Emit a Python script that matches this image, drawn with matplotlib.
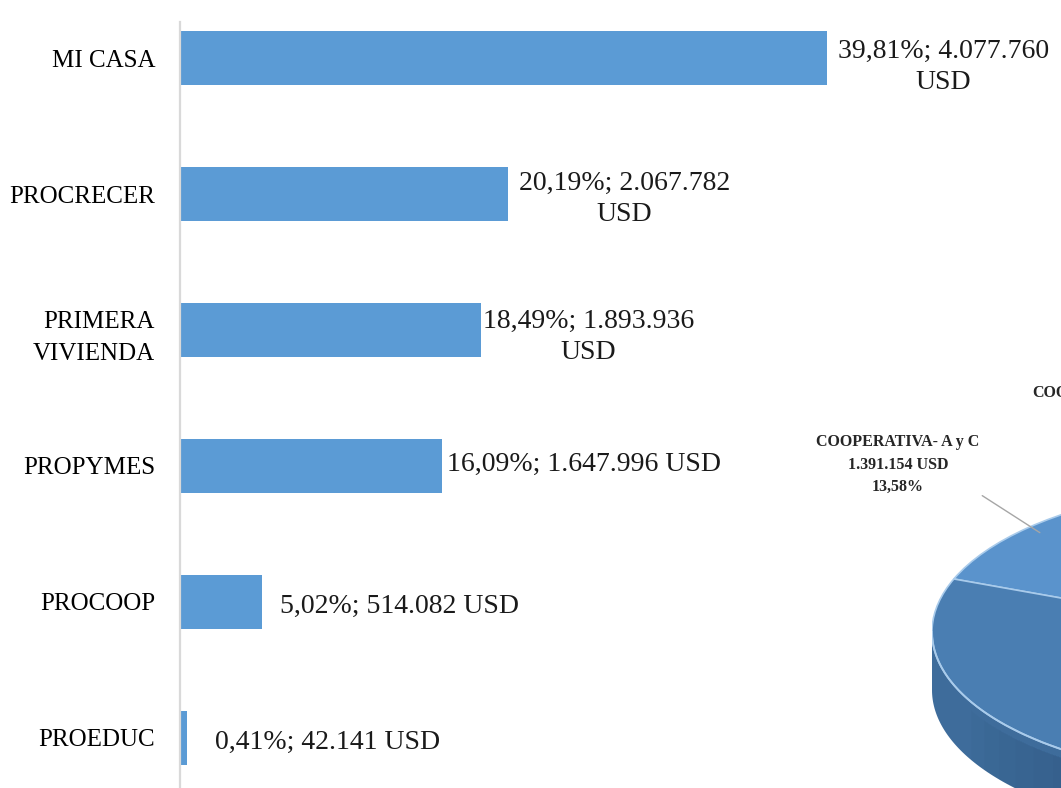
import numpy as np
import matplotlib
matplotlib.use('Agg')
import matplotlib.pyplot as plt
from matplotlib.patches import Wedge, Polygon

# bar chart data
programs = ['MI CASA', 'PROCRECER', 'PRIMERA\nVIVIENDA', 'PROPYMES',
            'PROCOOP', 'PROEDUC']
usd = [4077760, 2067782, 1893936, 1647996, 514082, 42141]
pct = [39.81, 20.19, 18.49, 16.09, 5.02, 0.41]
wrap_label = [True, True, True, False, False, False]

# pie fragment data (only one slice is visible/labelled)
pie_labels = ['COOPERATIVA- A y C', 'COOPERATIVA']
pie_usd = [1391154, None]
pie_pct = [13.58, 86.42]


def es_int(v):
    return '{:,}'.format(v).replace(',', '.')


def es_pct(v):
    return '{:.2f}%'.format(v).replace('.', ',')


plt.rcParams['font.family'] = ['Liberation Serif', 'DejaVu Serif']

W, H = 1061, 788
fig = plt.figure(figsize=(W / 100, H / 100), dpi=100)

###############################################################################
# horizontal bars
ax = fig.add_axes([180 / W, 0, 1 - 180 / W, 1 - 22 / H])
y = np.arange(len(programs))
bar_color = '#5B9BD5'
ax.barh(y, usd, height=0.4, color=bar_color)
ax.set_xlim(0, 5.552e6)
ax.set_ylim(5.368, -0.265)

for s in ['top', 'right', 'bottom']:
    ax.spines[s].set_visible(False)
ax.spines['left'].set_color('#D9D9D9')
ax.spines['left'].set_linewidth(1.6)
ax.set_xticks([])
ax.set_yticks(y)
ax.set_yticklabels(programs, fontsize=18, multialignment='right')
for lab in ax.get_yticklabels():
    lab.set_linespacing(1.62)
ax.tick_params(axis='y', length=0, pad=18)
ax.patch.set_alpha(0)

# data labels, nudged like the original
label_dx = [11, 11, 2, 5, 18, 28]
label_dy = [-9, -5, -7, 2, -4, -4]
for i in range(len(programs)):
    txt = es_pct(pct[i]) + '; ' + es_int(usd[i]) + (
        '\nUSD' if wrap_label[i] else ' USD')
    ax.annotate(txt, xy=(usd[i], y[i]), xytext=(label_dx[i], label_dy[i]),
                textcoords='offset pixels', ha='left', va='center',
                multialignment='center', fontsize=20, linespacing=1.31,
                color='#1a1a1a')

###############################################################################
# 3D pie fragment in the lower right corner
pa = fig.add_axes([932 / W, 1 - 836 / H, 640 / W, 350 / H])
pa.set_xlim(-1, 1)
depth = 58 / 146
pa.set_ylim(-1 - depth, 1)
pa.axis('off')

light = '#5A93CC'
dark = '#4A7EB2'
side = '#3E6C9B'
rim = '#A9CBEB'

boundary = 158.7
span = [p * 3.6 for p in pie_pct]
start = boundary - span[0]

# side wall (front half)
t = np.linspace(np.pi, 2 * np.pi, 200)
top_pts = np.column_stack([np.cos(t), np.sin(t)])
bot_pts = np.column_stack([np.cos(t[::-1]), np.sin(t[::-1]) - depth])
pa.add_patch(Polygon(np.vstack([top_pts, bot_pts]), closed=True,
                     facecolor=side, edgecolor='none'))
# darker shading towards the bottom of the wall
for k in range(12):
    tt = np.linspace(np.pi + 0.5 + k * 0.08, 2 * np.pi, 100)
    pts = np.vstack([np.column_stack([np.cos(tt), np.sin(tt) - depth * 0.15]),
                     np.column_stack([np.cos(tt[::-1]),
                                      np.sin(tt[::-1]) - depth])])
    pa.add_patch(Polygon(pts, closed=True, facecolor='#1f3d5e',
                         alpha=0.035, edgecolor='none'))

# top face
pa.add_patch(Wedge((0, 0), 1, start, boundary, facecolor=light,
                   edgecolor=rim, linewidth=1.2))
pa.add_patch(Wedge((0, 0), 1, boundary, start + 360, facecolor=dark,
                   edgecolor=rim, linewidth=1.2))
pa.plot(np.cos(t), np.sin(t), color=rim, lw=1.4)

# slice label with leader line
mid = np.deg2rad(start + span[0] / 2)
pa.annotate(pie_labels[0] + '\n' + es_int(pie_usd[0]) + ' USD\n'
            + es_pct(pie_pct[0]),
            xy=(0.95 * np.cos(mid), 0.95 * np.sin(mid)),
            xytext=(-142, 68), textcoords='offset pixels',
            ha='center', va='center', fontsize=11.5, fontweight='bold',
            linespacing=1.52, color='#262626', annotation_clip=False,
            arrowprops=dict(arrowstyle='-', color='#A6A6A6', lw=1,
                            relpos=(0.86, 0.26), shrinkA=0, shrinkB=0))

fig.text(1032 / W, 1 - 393 / H, pie_labels[1], ha='left', va='center',
         fontsize=11.5, fontweight='bold', color='#262626')

fig.savefig('out.png', dpi=100)
